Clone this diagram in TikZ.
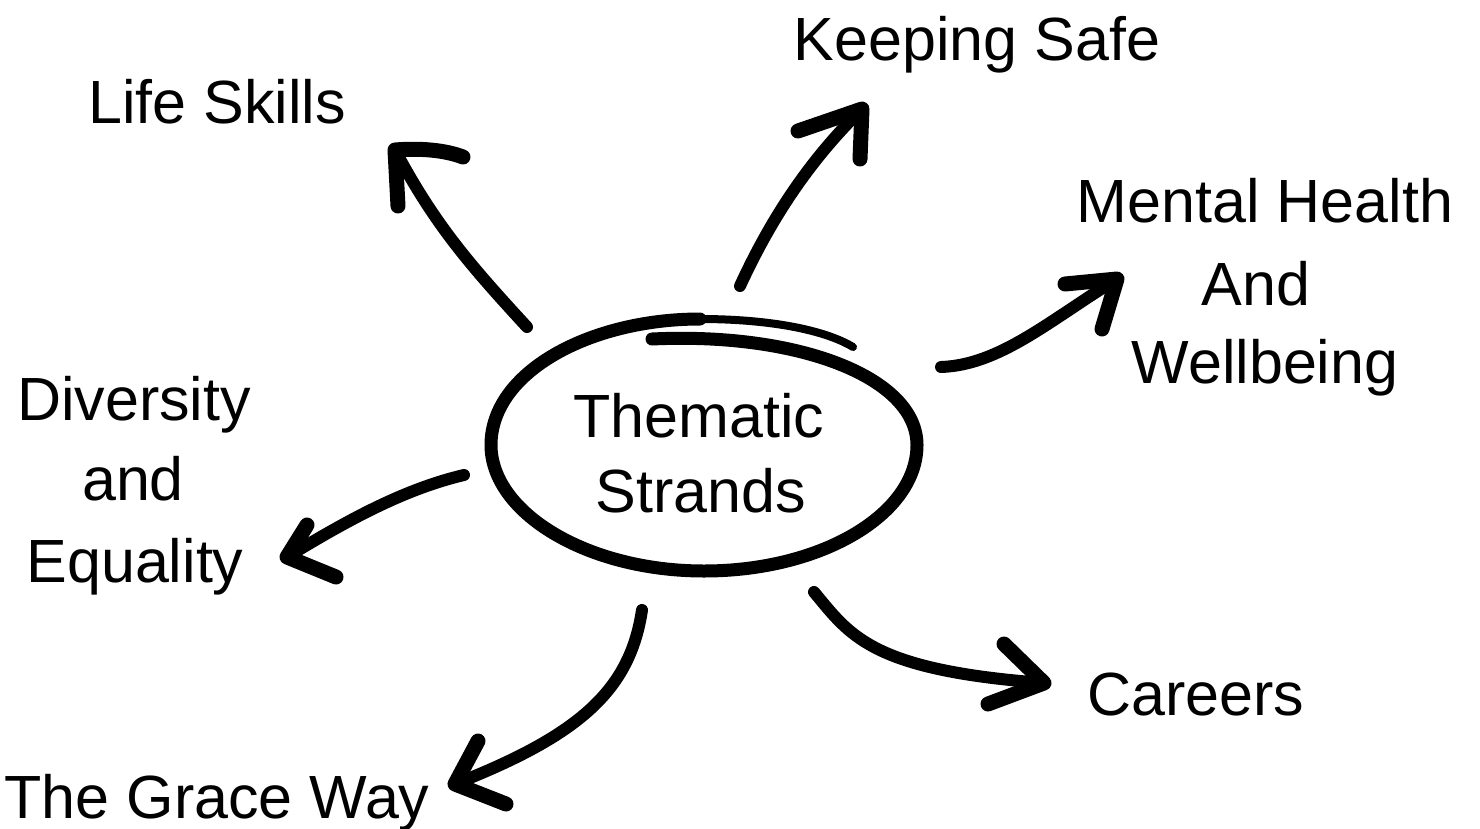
\documentclass[tikz,border=0pt]{standalone}
\usepackage{fontspec}
\setmainfont{Liberation Sans}
\begin{document}
\begin{tikzpicture}[x=1pt,y=-1pt,
  lbl/.style={font=\fontsize{61}{72}\selectfont, anchor=base, inner sep=0pt},
  body/.style={line width=12pt, line cap=round, line join=round},
  head/.style={line width=15pt, line cap=round, line join=round},
  ring/.style={line width=13pt, line cap=round, line join=round},
  ringtail/.style={line width=8pt, line cap=round}]
\useasboundingbox (0,0) rectangle (1480,828);

% labels
\node[lbl] (ks) at (977,60) {Keeping Safe};
\node[lbl] (ls) at (217,123) {Life Skills};
\node[lbl] (mh1) at (1265,222) {Mental Health};
\node[lbl] (mh2) at (1256,305) {And};
\node[lbl] (mh3) at (1265,383) {Wellbeing};
\node[lbl] (de1) at (134,420) {Diversity};
\node[lbl] (de2) at (133,500) {and};
\node[lbl] (de3) at (135,582) {Equality};
\node[lbl] (th1) at (699,437) {Thematic};
\node[lbl] (th2) at (701,512) {Strands};
\node[lbl] (ca) at (1196,715) {Careers};
\node[lbl] (gw) at (217,818) {The Grace Way};

% central ring
\coordinate (rs) at (652,339);
\coordinate (rr) at (917,445);
\coordinate (rb) at (704,571);
\coordinate (rl) at (491,445);
\coordinate (rt) at (700,319);
\coordinate (re) at (853,347);
\draw[ring] (rs) .. controls (800,332) and (917,378) .. (rr)
  .. controls (917,514) and (822,571) .. (rb)
  .. controls (586,571) and (491,512) .. (rl)
  .. controls (491,372) and (590,319) .. (rt);
\draw[ringtail] (rt) .. controls (770,319) and (825,330) .. (re);

% arrow end points
\coordinate (lsT) at (527,327); \coordinate (lsP) at (395,150);
\coordinate (lsA) at (398,206); \coordinate (lsB) at (463,157);
\coordinate (ksT) at (740,286); \coordinate (ksP) at (862,109);
\coordinate (ksA) at (798,131); \coordinate (ksB) at (860,159);
\coordinate (mhT) at (941,367); \coordinate (mhP) at (1117,279);
\coordinate (mhA) at (1065,284); \coordinate (mhB) at (1102,329);
\coordinate (deT) at (464,475); \coordinate (deP) at (287,557);
\coordinate (deA) at (307,525); \coordinate (deB) at (336,577);
\coordinate (gwT) at (642,610); \coordinate (gwP) at (455,784);
\coordinate (gwA) at (478,741); \coordinate (gwB) at (506,804);
\coordinate (caT) at (814,592); \coordinate (caP) at (1044,683);
\coordinate (caA) at (1004,644); \coordinate (caB) at (988,704);

% arrows
\draw[body] (lsT) .. controls (470,265) and (435,225) .. (lsP);
\draw[head] (lsA) -- (lsP) .. controls (420,148) and (445,150) .. (lsB);

\draw[body] (ksT) .. controls (775,210) and (815,155) .. (ksP);
\draw[head] (ksA) -- (ksP) -- (ksB);

\draw[body] (mhT) .. controls (1000,365) and (1050,320) .. (mhP);
\draw[head] (mhA) -- (mhP) -- (mhB);

\draw[body] (deT) .. controls (400,490) and (340,525) .. (deP);
\draw[head] (deA) -- (deP) -- (deB);

\draw[body] (gwT) .. controls (630,690) and (580,735) .. (gwP);
\draw[head] (gwA) -- (gwP) -- (gwB);

\draw[body] (caT) .. controls (850,635) and (870,670) .. (caP);
\draw[head] (caA) -- (caP) -- (caB);
\end{tikzpicture}
\end{document}
